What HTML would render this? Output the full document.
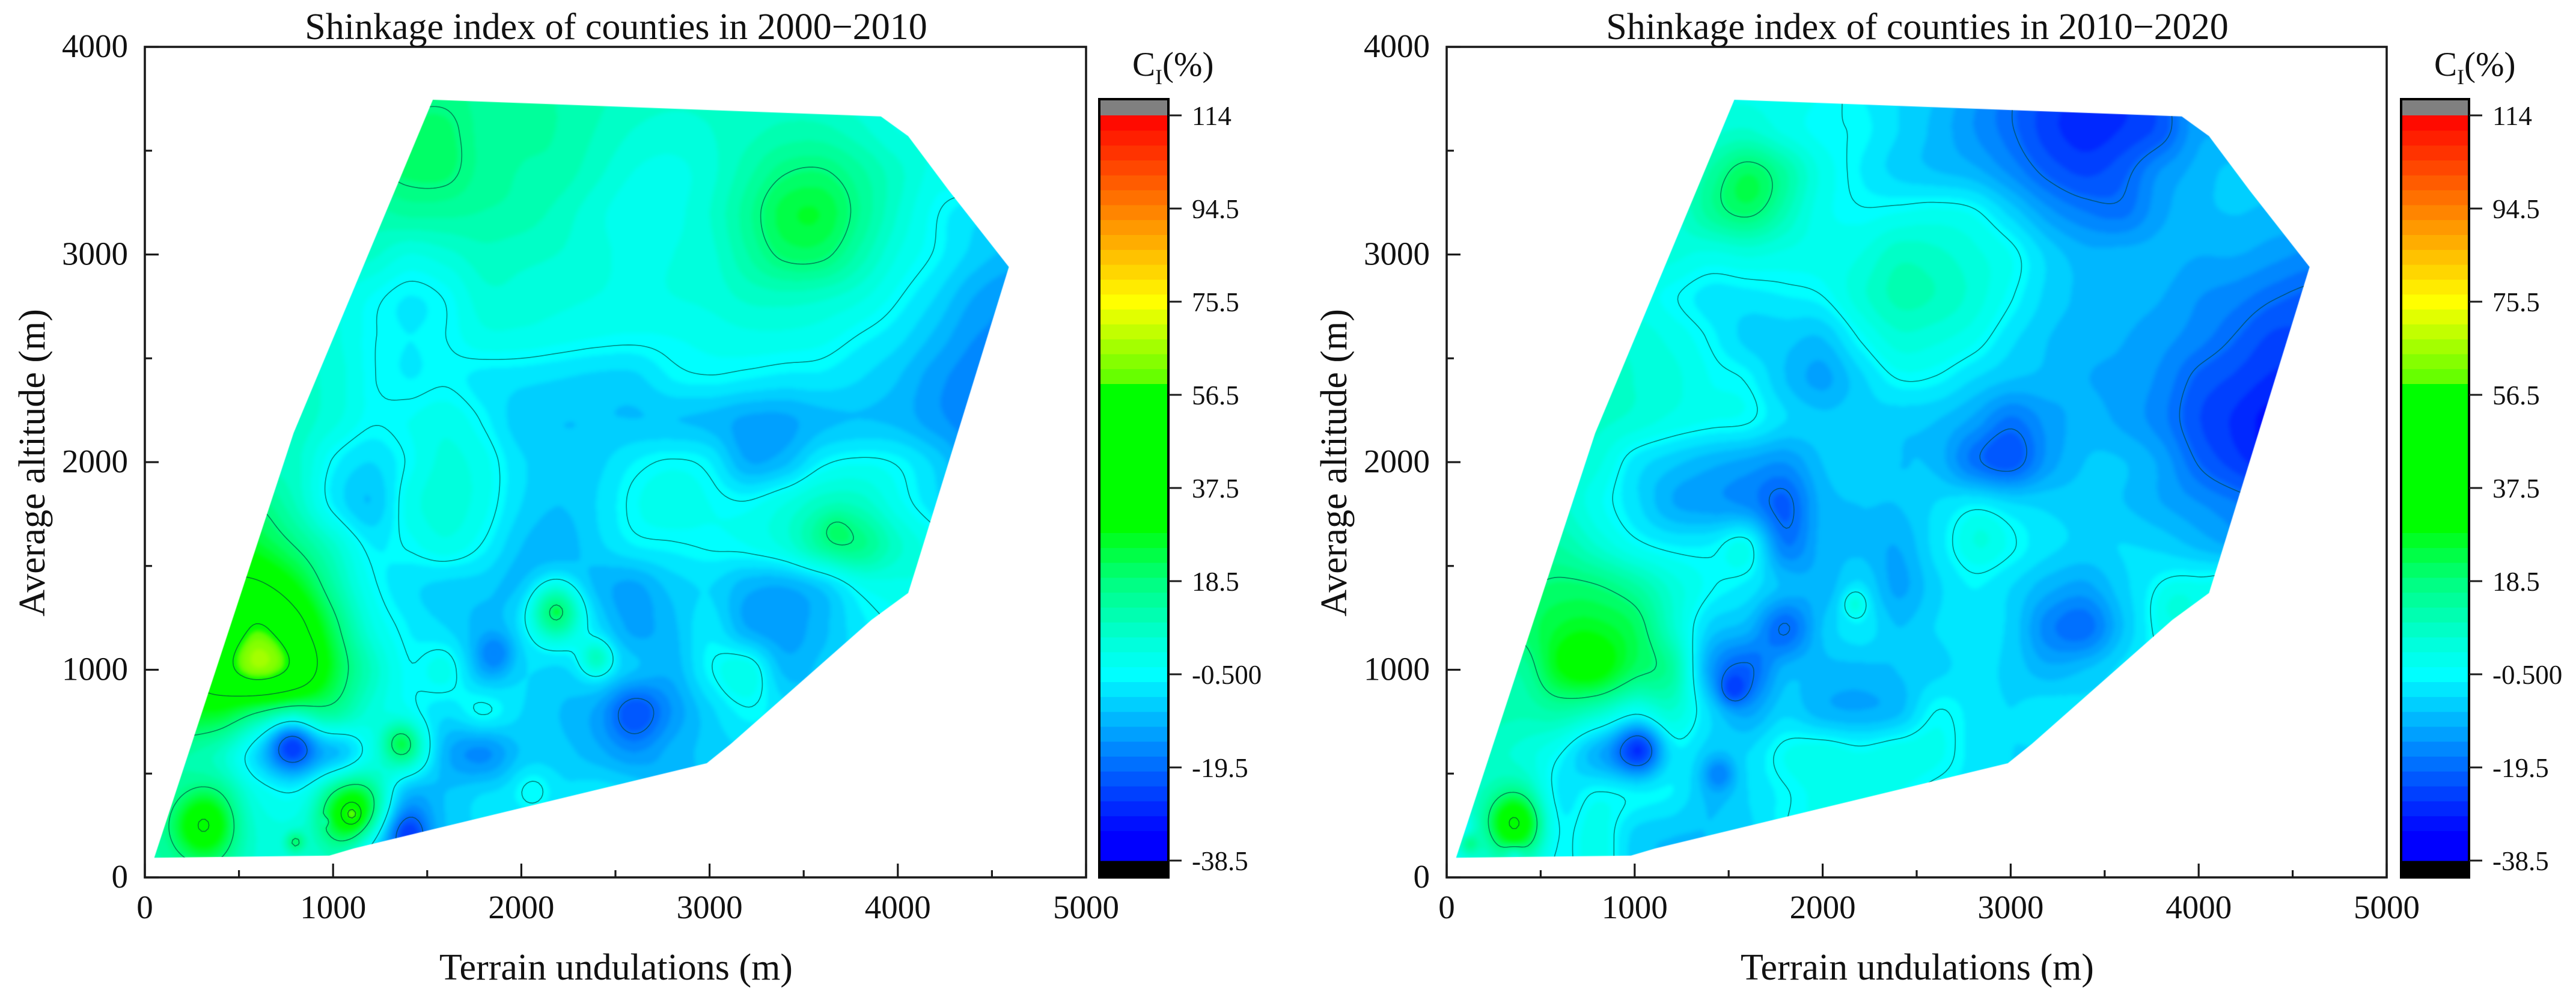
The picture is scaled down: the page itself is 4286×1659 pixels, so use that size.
<!DOCTYPE html>
<html lang="en">
<head>
<meta charset="utf-8">
<title>Shinkage index of counties</title>
<style>
html,body{margin:0;padding:0;background:#fff;width:4286px;height:1659px;overflow:hidden}
#stage{position:relative;width:4286px;height:1659px}
canvas{position:absolute;top:0;left:0}
svg{position:absolute;top:0;left:0}
text{font-family:"Liberation Serif",serif;fill:#111}
</style>
</head>
<body>
<div id="stage">
<canvas id="fieldCanvas" width="4286" height="1659"></canvas>
<svg id="overlay" width="4286" height="1659" viewBox="0 0 4286 1659" xmlns="http://www.w3.org/2000/svg"></svg>
</div>
<script>
const n = null;
const xTickValues = [0, 1000, 2000, 3000, 4000, 5000];
const yTickValues = [0, 1000, 2000, 3000, 4000];
const xMinorValues = [500, 1500, 2500, 3500, 4500];
const yMinorValues = [500, 1500, 2500, 3500];
const colorTickValues = [113.5, 94.5, 75.5, 56.5, 37.5, 18.5, -0.5, -19.5, -38.5];
const colorTickLabels = ['114', '94.5', '75.5', '56.5', '37.5', '18.5', '-0.500', '-19.5', '-38.5'];
const contourLevels = [-19.5, -0.5, 18.5, 37.5, 56.5];
const titles = ['Shinkage index of counties in 2000\u22122010', 'Shinkage index of counties in 2010\u22122020'];

const hullX = [50, 980, 1110, 2985, 3115, 3860, 4055, 4100, 4590, 4270, 4055, 3910, 1530, 790];
const hullY = [95, 105, 140, 550, 645, 1240, 1370, 1500, 2940, 3310, 3570, 3665, 3745, 2140];

const gridX = [0,200,400,600,800,1000,1200,1400,1600,1800,2000,2200,2400,2600,2800,3000,3200,3400,3600,3800,4000,4200,4400,4600];
const gridY = [3800,3600,3400,3200,3000,2800,2600,2400,2200,2000,1800,1600,1400,1200,1000,800,600,400,200,0];

const field2000 = [
[n,n,n,n,n,n,n,17,17,15,14,13,11,9,8,8,8,8,7,5,3,n,n,n],
[n,n,n,n,n,n,n,20,20,15,14,13,10,7,6,7,9,11,11,8,4,n,n,n],
[n,n,n,n,n,n,18,20,20,15,13,12,8,4,3,6,12,18,19,14,8,3,n,n],
[n,n,n,n,n,12,12,14,14,13,12,9,5,2,3,7,15,24,25,16,7,0,-4,n],
[n,n,n,n,n,9,8,4,6,9,8,7,5,3,4,6,13,20,20,12,4,-1,-6,-9],
[n,n,n,n,7,5,1,-2,0,6,6,5,4,3,4,5,8,9,8,5,0,-5,-11,-14],
[n,n,n,n,8,5,0,-2,-0.5,3,3,2,1,0.5,1,2,3,3,2,-1,-4,-9,-14,-15],
[n,n,n,9,8,6,0,-2,-1,-3,-4,-5,-6,-6,-2,-1,-2,-3,-3,-5,-8,-13,-16,-16],
[n,n,n,9,9,5,0,1,3,-1,-7,-8,-8,-8,-8,-9,-12,-12,-9,-8,-9,-13,-16,-16],
[n,n,n,9,8,-1,-5,0,5,2,-4.5,-7,-6,-2,0,-2,-11,-9,-1.5,0.5,-1,-6,-13,-15],
[n,n,18,18,10,-2,-8,2,6,2,-5,-8,-5,0.5,3,1,0,4,9,9,2,-4,-10,-14],
[n,n,30,26,18,8,-2,0,3,-1,-8,-10,-6,-2,-1,0,1,5,14,17,8,2,-3,-8],
[n,n,40,40,30,14,1,-4,-6,-7,-10,-8,-10,-12,-7,-5,-10,-11,-7,1,3,3,n,n],
[n,n,44,58,44,22,5,-2,-5,-9,-6,-2,-6,-12,-9,-3,-11,-13,-9,-3,0,n,n,n],
[n,40,50,64,52,26,10,0,2,-9,-5,-6,-4,-8,-10,-1,3,-9,-7,-3,n,n,n,n],
[n,28,28,20,16,16,6,1,-4,0,-5,-8,-12,-23,-14,-6,-1,-4,n,n,n,n,n,n],
[16,14,9,-4,-10,-5,3,9,-10,-15,-8,-7,-10,-14,-10,-7,-5,n,n,n,n,n,n,n],
[12,12,12,3,0,6,6,-10,-8,-5,-5,-5,-3,-5,n,n,n,n,n,n,n,n,n,n],
[12,12,12,6,5,6,-8,-15,-8,n,n,n,n,n,n,n,n,n,n,n,n,n,n,n],
[12,12,12,6,5,6,-8,-15,n,n,n,n,n,n,n,n,n,n,n,n,n,n,n,n]
];
const hot2000X = [1100,1100,800,960,310,1360,780,1050,1400,2180,2190,2400,3670,2060,1870];
const hot2000Y = [300,305,170,270,250,650,650,620,210,1290,1280,1060,1680,420,1080];
const hot2000V = [32,28,15,-8,26,14,-18,-5,-12,24,8,14,5,6,-8];
const hot2000R = [110,28,35,15,110,65,85,90,70,100,12,60,60,80,70];

const field2010 = [
[n,n,n,n,n,n,n,3,3,3,1,-2,-5,-8,-13,-19,-24,-28,-27,-21,-12,n,n,n],
[n,n,n,n,n,n,n,6,7,3,0,-1,-5,-9,-14,-19,-25,-28,-26,-22,-12,n,n,n],
[n,n,n,n,n,n,7,12,17,12,3,-2,-6,-8,-10,-15,-21,-24,-21,-14,-10,-7,n,n],
[n,n,n,n,n,6,6,13,14,9,2,0,1,2,0.5,-6,-13,-17,-18,-12,-9,-8,-9,n],
[n,n,n,n,n,6,5,3,4,3,2.5,4,9,8,5,1,-6,-10,-10,-10,-11,-11,-13,-15],
[n,n,n,n,5,3,0,-3,-3,-2,-0.5,6,11,10,6,0,-6,-9,-10,-11,-14,-16,-19,-21],
[n,n,n,n,7,6,3,-1,-6,-7,-8,0,6,5,2,-4,-8,-10,-11,-13,-16,-20,-24,-24],
[n,n,n,9,9,7,5,1,-1,-8,-12,-6,-0.5,-1,-5,-8,-9,-11,-12,-15,-21,-24,-27,-27],
[n,n,n,9,8,6,3,1,0,-5,-7,-6,-7,-8,-12,-18,-13,-10,-12,-16,-23,-27,-31,-30],
[n,n,n,8,5,-3,-7,-10,-12,-14,-8,-6,-8,-9,-18,-22,-13,-8,-8,-12,-20,-25,-29,-29],
[n,n,10,8,2,-4,-11,-13,-15,-21,-10,-8,-8,-5,-3,-5,-6,-7,-8,-11,-14,-17,-20,-22],
[n,n,12,13,7,1,-2,-2,1,-17,-10,-9,-11,-4,0.5,-0.5,-4,-6,-5,-6,-9,-12,-15,-16],
[n,n,18,20,19,14,6,0,-3,-9,-10,-5,-12,-6,-2,-5,-10,-12,-6,-1,1,1,n,n],
[n,n,20,25,26,22,8,-6,-10,-20,-8,-3,-8,-5,-3,-6,-16,-19,-8,0.5,1,n,n,n],
[n,15,14,27,30,21,14,-12,-20,-10,-9,-9,-8,-6,-4,-6,-10,-8,-4,-1,n,n,n,n],
[n,12,11,13,9,3,7,-5,-12,-6,-10,-11,-9,-0.5,-3,-5,-3,-4,n,n,n,n,n,n],
[8,8,6,0,-10,-12,-2,-6,-5,1,3,1,3,2,-3,-5,-5,n,n,n,n,n,n,n],
[4,8,8,-3,0,-1,-2,-8,-5,-1,2,2,1,-2,n,n,n,n,n,n,n,n,n,n],
[2,6,8,-2,3,-6,-8,-8,-6,n,n,n,n,n,n,n,n,n,n,n,n,n,n,n],
[2,5,6,-2,3,-6,-8,-8,n,n,n,n,n,n,n,n,n,n,n,n,n,n,n,n]
];
const hot2010X = [360,120,80,1030,1520,1450,2170,2840,3880,1610,720,360];
const hot2010Y = [260,160,250,620,900,500,1320,1640,1310,3280,1060,105];
const hot2010V = [30,12,-7,-16,-10,-10,9,4,4,7,4,-10];
const hot2010R = [100,35,35,85,55,60,45,90,80,130,100,40];

const colorStopV = [-38.5,-33,-0.5,5,18.5,28.5,30,59,60,75.5,113.5];
const colorStopR = [0,0,0,0,0,0,0,0,100,255,255];
const colorStopG = [0,0,255,255,255,255,255,255,255,255,0];
const colorStopB = [255,255,255,225,128,20,0,0,0,0,0];

const bandCount = 50;
const vMin = -38.5;
const vMax = 113.5;
const bandStep = (vMax - vMin) / bandCount;

function rawColor(v) {
  let i = 0;
  if (v <= colorStopV[0]) return [colorStopR[0], colorStopG[0], colorStopB[0]];
  const last = colorStopV.length - 1;
  if (v >= colorStopV[last]) return [colorStopR[last], colorStopG[last], colorStopB[last]];
  while (v > colorStopV[i + 1]) i++;
  const t = (v - colorStopV[i]) / (colorStopV[i + 1] - colorStopV[i]);
  return [
    colorStopR[i] + (colorStopR[i + 1] - colorStopR[i]) * t,
    colorStopG[i] + (colorStopG[i + 1] - colorStopG[i]) * t,
    colorStopB[i] + (colorStopB[i + 1] - colorStopB[i]) * t
  ];
}
const bandColors = [];
for (let b = 0; b < bandCount; b++) bandColors.push(rawColor(vMin + (b + 0.5) * bandStep));
function bandOf(v) {
  return Math.max(0, Math.min(bandCount - 1, Math.floor((v - vMin) / bandStep)));
}

function fillMissing(g) {
  const out = g.map(r => r.slice());
  for (let j = 0; j < g.length; j++) {
    for (let i = 0; i < g[j].length; i++) {
      if (g[j][i] !== null) continue;
      let best = 1e9, val = 0;
      for (let jj = 0; jj < g.length; jj++) {
        for (let ii = 0; ii < g[jj].length; ii++) {
          if (g[jj][ii] === null) continue;
          const d = (jj - j) * (jj - j) + (ii - i) * (ii - i);
          if (d < best) { best = d; val = g[jj][ii]; }
        }
      }
      out[j][i] = val;
    }
  }
  return out;
}
function cubic(a, b, c, d, t) {
  return b + 0.5 * t * (c - a + t * (2 * a - 5 * b + 4 * c - d + t * (3 * (b - c) + d - a)));
}
function makeField(grid, hx, hy, hv, hr) {
  const g = fillMissing(grid);
  const nx = gridX.length, ny = gridY.length;
  const stepX = gridX[1] - gridX[0];
  const stepY = gridY[0] - gridY[1];
  return function (x, y) {
    const fx = Math.max(0, Math.min(nx - 1.001, (x - gridX[0]) / stepX));
    const fy = Math.max(0, Math.min(ny - 1.001, (gridY[0] - y) / stepY));
    const i = Math.floor(fx), j = Math.floor(fy);
    const tx = fx - i, ty = fy - j;
    const rows = [];
    for (let q = -1; q <= 2; q++) {
      const r = g[Math.max(0, Math.min(ny - 1, j + q))];
      rows.push(cubic(r[Math.max(0, i - 1)], r[i], r[Math.min(nx - 1, i + 1)], r[Math.min(nx - 1, i + 2)], tx));
    }
    let v = cubic(rows[0], rows[1], rows[2], rows[3], ty);
    for (let k = 0; k < hx.length; k++) {
      const dx = x - hx[k], dy = y - hy[k];
      v += hv[k] * Math.exp(-(dx * dx + dy * dy) / (2 * hr[k] * hr[k]));
    }
    return v;
  };
}

const svgNS = 'http://www.w3.org/2000/svg';
const overlay = document.getElementById('overlay');
const ctx = document.getElementById('fieldCanvas').getContext('2d');
const plotTop = 78, plotBottom = 1460;
const cbTop = 165, cbGradTop = 192, cbGradBottom = 1432, cbBottom = 1460;

function drawPanel(index, left, right, cbLeft, cbRight, grid, hx, hy, hv, hr) {
  const xScale = v => left + v / 5000 * (right - left);
  const yScale = v => plotBottom - v / 4000 * (plotBottom - plotTop);
  const xInv = p => (p - left) / (right - left) * 5000;
  const yInv = p => (plotBottom - p) / (plotBottom - plotTop) * 4000;
  const cScale = v => cbGradBottom - (v - vMin) / (vMax - vMin) * (cbGradBottom - cbGradTop);
  const f = makeField(grid, hx, hy, hv, hr);
  const panel = document.createElementNS(svgNS, 'g');
  
  
  overlay.appendChild(panel);

  /* filled field */
  const w = right - left, h = plotBottom - plotTop;
  const cell = 2;
  const off = document.createElement('canvas');
  off.width = w; off.height = h;
  const octx = off.getContext('2d');
  const img = octx.createImageData(w, h);
  for (let py = 0; py < h; py += cell) {
    for (let px = 0; px < w; px += cell) {
      const v = f(xInv(left + px + cell / 2), yInv(plotTop + py + cell / 2));
      const c = bandColors[bandOf(v)];
      for (let a = 0; a < cell; a++) {
        for (let b = 0; b < cell; b++) {
          if (py + a >= h || px + b >= w) continue;
          const o = ((py + a) * w + px + b) * 4;
          img.data[o] = c[0]; img.data[o + 1] = c[1]; img.data[o + 2] = c[2]; img.data[o + 3] = 255;
        }
      }
    }
  }
  octx.putImageData(img, 0, 0);
  ctx.save();
  ctx.beginPath();
  hullX.forEach((hxv, i) => {
    const X = xScale(hxv), Y = yScale(hullY[i]);
    if (i === 0) ctx.moveTo(X, Y); else ctx.lineTo(X, Y);
  });
  ctx.closePath();
  ctx.clip();
  ctx.filter = 'blur(3.5px)';
  ctx.drawImage(off, left, plotTop);
  ctx.restore();

  /* contour lines */
  const clipId = 'hull-clip-' + index;
  const defs = document.createElementNS(svgNS, 'defs');
  const clip = document.createElementNS(svgNS, 'clipPath');
  clip.setAttribute('id', clipId);
  const poly = document.createElementNS(svgNS, 'polygon');
  poly.setAttribute('points', hullX.map((hxv, i) => xScale(hxv).toFixed(1) + ',' + yScale(hullY[i]).toFixed(1)).join(' '));
  clip.appendChild(poly);
  defs.appendChild(clip);
  panel.appendChild(defs);

  const step = 5;
  const cols = Math.floor(w / step) + 1, rows = Math.floor(h / step) + 1;
  const lattice = [];
  for (let j = 0; j < rows; j++) {
    const row = new Float32Array(cols);
    for (let i = 0; i < cols; i++) row[i] = f(xInv(left + i * step), yInv(plotTop + j * step));
    lattice.push(row);
  }
  contourLevels.forEach(level => {
    let d = '';
    for (let j = 0; j < rows - 1; j++) {
      for (let i = 0; i < cols - 1; i++) {
        const a = lattice[j][i], b = lattice[j][i + 1], c = lattice[j + 1][i + 1], e = lattice[j + 1][i];
        const pts = [];
        if ((a >= level) !== (b >= level)) pts.push([left + (i + (level - a) / (b - a)) * step, plotTop + j * step]);
        if ((b >= level) !== (c >= level)) pts.push([left + (i + 1) * step, plotTop + (j + (level - b) / (c - b)) * step]);
        if ((e >= level) !== (c >= level)) pts.push([left + (i + (level - e) / (c - e)) * step, plotTop + (j + 1) * step]);
        if ((a >= level) !== (e >= level)) pts.push([left + i * step, plotTop + (j + (level - a) / (e - a)) * step]);
        for (let k = 0; k + 1 < pts.length; k += 2) {
          d += 'M' + pts[k][0].toFixed(1) + ' ' + pts[k][1].toFixed(1) + 'L' + pts[k + 1][0].toFixed(1) + ' ' + pts[k + 1][1].toFixed(1);
        }
      }
    }
    const path = document.createElementNS(svgNS, 'path');
    
    
    path.setAttribute('d', d);
    path.setAttribute('fill', 'none');
    path.setAttribute('stroke', 'rgba(0,70,60,0.6)');
    path.setAttribute('stroke-width', '1.7');
    path.setAttribute('stroke-linecap', 'round');
    path.setAttribute('clip-path', 'url(#' + clipId + ')');
    panel.appendChild(path);
  });

  /* plot frame */
  const frame = document.createElementNS(svgNS, 'rect');
  
  
  frame.setAttribute('x', left);
  frame.setAttribute('y', plotTop);
  frame.setAttribute('width', right - left);
  frame.setAttribute('height', plotBottom - plotTop);
  frame.setAttribute('fill', 'none');
  frame.setAttribute('stroke', '#1a1a1a');
  frame.setAttribute('stroke-width', '3.6');
  panel.appendChild(frame);

  function line(x1, y1, x2, y2, name, width) {
    const l = document.createElementNS(svgNS, 'line');
    
    
    l.setAttribute('x1', x1);
    l.setAttribute('y1', y1);
    l.setAttribute('x2', x2);
    l.setAttribute('y2', y2);
    l.setAttribute('stroke', '#1a1a1a');
    l.setAttribute('stroke-width', width);
    panel.appendChild(l);
  }
  function label(str, x, y, size, anchor, name) {
    const t = document.createElementNS(svgNS, 'text');
    
    
    t.setAttribute('x', x);
    t.setAttribute('y', y);
    t.setAttribute('font-size', size);
    t.setAttribute('text-anchor', anchor);
    t.textContent = str;
    panel.appendChild(t);
    return t;
  }

  /* ticks */
  xTickValues.forEach(v => {
    line(xScale(v), plotBottom, xScale(v), plotBottom - 23, 'x-major-tick', 3.2);
    label(String(v), xScale(v), 1528, 55, 'middle', 'x-tick-label');
  });
  xMinorValues.forEach(v => line(xScale(v), plotBottom, xScale(v), plotBottom - 12, 'x-minor-tick', 3.2));
  yTickValues.forEach(v => {
    line(left, yScale(v), left + 23, yScale(v), 'y-major-tick', 3.2);
    label(String(v), left - 28, yScale(v) + 17, 55, 'end', 'y-tick-label');
  });
  yMinorValues.forEach(v => line(left, yScale(v), left + 12, yScale(v), 'y-minor-tick', 3.2));

  /* titles */
  const mid = (left + right) / 2;
  label(titles[index], mid + 1, 65, 62, 'middle', 'chart-title');
  label('Terrain undulations (m)', mid + 1, 1630, 62, 'middle', 'x-axis-title');
  const yt = label('Average altitude (m)', 0, 0, 62, 'middle', 'y-axis-title');
  yt.setAttribute('transform', 'translate(' + (left - 167) + ' ' + 770 + ') rotate(-90)');

  /* colour bar */
  const bar = document.createElementNS(svgNS, 'g');
  
  
  panel.appendChild(bar);
  const barW = cbRight - cbLeft;
  const gray = document.createElementNS(svgNS, 'rect');
  
  
  gray.setAttribute('x', cbLeft);
  gray.setAttribute('y', cbTop);
  gray.setAttribute('width', barW);
  gray.setAttribute('height', cbGradTop - cbTop);
  gray.setAttribute('fill', '#808080');
  bar.appendChild(gray);
  const under = document.createElementNS(svgNS, 'rect');
  
  
  under.setAttribute('x', cbLeft);
  under.setAttribute('y', cbGradBottom);
  under.setAttribute('width', barW);
  under.setAttribute('height', cbBottom - cbGradBottom);
  under.setAttribute('fill', '#000');
  bar.appendChild(under);
  bandColors.forEach((c, b) => {
    const r = document.createElementNS(svgNS, 'rect');
    
    
    const top = cScale(vMin + (b + 1) * bandStep);
    r.setAttribute('x', cbLeft);
    r.setAttribute('y', top);
    r.setAttribute('width', barW);
    r.setAttribute('height', cScale(vMin + b * bandStep) - top + 0.6);
    r.setAttribute('fill', 'rgb(' + Math.round(c[0]) + ',' + Math.round(c[1]) + ',' + Math.round(c[2]) + ')');
    bar.appendChild(r);
  });
  const border = document.createElementNS(svgNS, 'rect');
  
  
  border.setAttribute('x', cbLeft);
  border.setAttribute('y', cbTop);
  border.setAttribute('width', barW);
  border.setAttribute('height', cbBottom - cbTop);
  border.setAttribute('fill', 'none');
  border.setAttribute('stroke', '#000');
  border.setAttribute('stroke-width', '4');
  bar.appendChild(border);
  colorTickValues.forEach((v, i) => {
    line(cbRight, cScale(v), cbRight + 22, cScale(v), 'colorbar-tick', 3);
    label(colorTickLabels[i], cbRight + 39, cScale(v) + 16, 45, 'start', 'colorbar-tick-label');
  });
  const cx = cbLeft + 55;
  label('C', cx, 126, 57, 'start', 'colorbar-title');
  label('I', cx + 38, 140, 36, 'start', 'colorbar-title-subscript');
  label('(%)', cx + 50, 126, 57, 'start', 'colorbar-title-unit');
}

drawPanel(0, 241, 1807, 1829, 1944, field2000, hot2000X, hot2000Y, hot2000V, hot2000R);
drawPanel(1, 2407, 3971, 3995, 4108, field2010, hot2010X, hot2010Y, hot2010V, hot2010R);
</script>
</body>
</html>
